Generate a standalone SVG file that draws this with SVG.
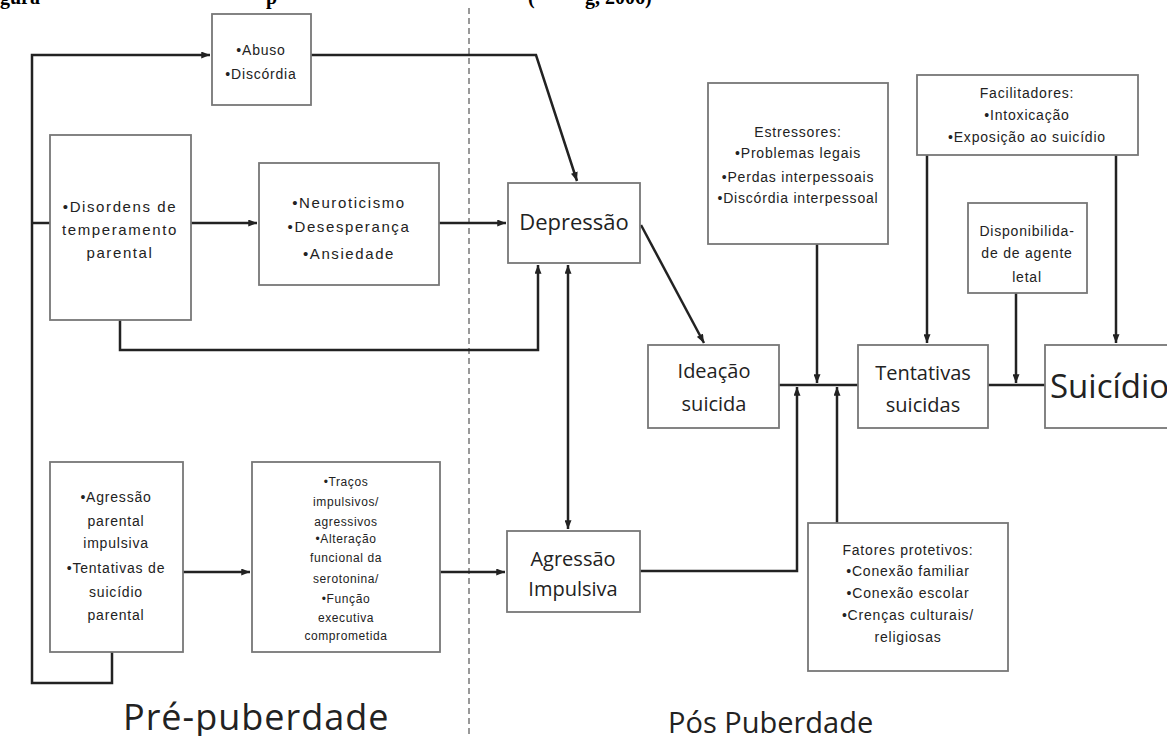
<svg xmlns="http://www.w3.org/2000/svg" width="1167" height="736" viewBox="0 0 1167 736">
<style>
.box{fill:#fff;stroke:#777;stroke-width:1.8}
.c{fill:none;stroke:#222;stroke-width:2.5}
.s{font-family:"Liberation Sans",Arial,sans-serif;font-size:14px;fill:#222;text-anchor:middle;letter-spacing:0.8px}
.m{font-family:"Liberation Sans",Arial,sans-serif;font-size:15px;fill:#222;text-anchor:middle;letter-spacing:1.6px}
.xs{font-family:"Liberation Sans",Arial,sans-serif;font-size:12px;fill:#222;text-anchor:middle;letter-spacing:0.6px}
.b{font-family:"Open Sans","Liberation Sans",sans-serif;font-size:20px;fill:#222;text-anchor:middle}
.cap{font-family:"Liberation Serif","Times New Roman",serif;font-weight:bold;font-size:20px;fill:#000}
.lbl{font-family:"Open Sans","Liberation Sans",sans-serif;fill:#222}
</style>
<defs>
<marker id="ah" viewBox="0 0 10 8" refX="10" refY="4" markerWidth="9" markerHeight="7" markerUnits="userSpaceOnUse" orient="auto-start-reverse">
<path d="M0,0 L10,4 L0,8 z" fill="#222"/>
</marker>
</defs>
<rect width="1167" height="736" fill="#fff"/>
<g id="caption">
<text class="cap" x="0" y="4">gura</text>
<text class="cap" x="266" y="4">p</text>
<text class="cap" x="528" y="4">(</text>
<text class="cap" x="585" y="4">g, 2006)</text>
</g>
<line x1="469" y1="8" x2="469" y2="736" stroke="#999" stroke-width="2" stroke-dasharray="6 4"/>
<g id="connectors">
<path class="c" d="M112,652 V683 H32 V55 H210" marker-end="url(#ah)"/>
<path class="c" d="M32,223 H50"/>
<path class="c" d="M311,55 H536 L577,181" marker-end="url(#ah)"/>
<path class="c" d="M191,223 H257" marker-end="url(#ah)"/>
<path class="c" d="M439,223 H506" marker-end="url(#ah)"/>
<path class="c" d="M120,320 V350 H538 V265" marker-end="url(#ah)"/>
<path class="c" d="M568,265 V529" marker-start="url(#ah)" marker-end="url(#ah)"/>
<path class="c" d="M641,225 L704,343" marker-end="url(#ah)"/>
<path class="c" d="M183,572 H250" marker-end="url(#ah)"/>
<path class="c" d="M440,572 H505" marker-end="url(#ah)"/>
<path class="c" d="M640,571 H797 V387" marker-end="url(#ah)"/>
<path class="c" d="M837,523 V387" marker-end="url(#ah)"/>
<path class="c" d="M817,244 V383" marker-end="url(#ah)"/>
<path class="c" d="M779,385 H858"/>
<path class="c" d="M927,155 V343" marker-end="url(#ah)"/>
<path class="c" d="M1116,155 V343" marker-end="url(#ah)"/>
<path class="c" d="M1016,293 V383" marker-end="url(#ah)"/>
<path class="c" d="M988,385 H1045"/>
</g>
<g id="abuso">
<rect class="box" x="212" y="14" width="99" height="91"/>
<text class="s" x="261" y="55">•Abuso</text>
<text class="s" x="261" y="79">•Discórdia</text>
</g>
<g id="disordens">
<rect class="box" x="50" y="135" width="141" height="185"/>
<text class="m" x="120" y="212">•Disordens de</text>
<text class="m" x="120" y="235">temperamento</text>
<text class="m" x="120" y="258">parental</text>
</g>
<g id="neuroticismo">
<rect class="box" x="259" y="163" width="180" height="122"/>
<text class="m" x="349" y="208">•Neuroticismo</text>
<text class="m" x="349" y="232">•Desesperança</text>
<text class="m" x="349" y="259">•Ansiedade</text>
</g>
<g id="agressao-parental">
<rect class="box" x="50" y="462" width="133" height="190"/>
<text class="s" x="116" y="502">•Agressão</text>
<text class="s" x="116" y="526">parental</text>
<text class="s" x="116" y="548">impulsiva</text>
<text class="s" x="116" y="573">•Tentativas de</text>
<text class="s" x="116" y="597">suicídio</text>
<text class="s" x="116" y="620">parental</text>
</g>
<g id="tracos">
<rect class="box" x="252" y="462" width="188" height="190"/>
<text class="xs" x="346" y="486">•Traços</text>
<text class="xs" x="346" y="506">impulsivos/</text>
<text class="xs" x="346" y="526">agressivos</text>
<text class="xs" x="346" y="543">•Alteração</text>
<text class="xs" x="346" y="562">funcional da</text>
<text class="xs" x="346" y="583">serotonina/</text>
<text class="xs" x="346" y="603">•Função</text>
<text class="xs" x="346" y="622">executiva</text>
<text class="xs" x="346" y="640">comprometida</text>
</g>
<g id="depressao">
<rect class="box" x="508" y="183" width="132" height="80"/>
<text class="b" x="574" y="230" style="font-size:22px">Depressão</text>
</g>
<g id="agressao-impulsiva">
<rect class="box" x="507" y="531" width="133" height="81"/>
<text class="b" x="573" y="566">Agressão</text>
<text class="b" x="573" y="596">Impulsiva</text>
</g>
<g id="estressores">
<rect class="box" x="708" y="83" width="180" height="161"/>
<text class="s" x="798" y="137">Estressores:</text>
<text class="s" x="798" y="158">•Problemas legais</text>
<text class="s" x="798" y="182">•Perdas interpessoais</text>
<text class="s" x="798" y="203">•Discórdia interpessoal</text>
</g>
<g id="facilitadores">
<rect class="box" x="917" y="75" width="221" height="80"/>
<text class="s" x="1027" y="98">Facilitadores:</text>
<text class="s" x="1027" y="120">•Intoxicação</text>
<text class="s" x="1027" y="142">•Exposição ao suicídio</text>
</g>
<g id="disponibilidade">
<rect class="box" x="968" y="203" width="119" height="90"/>
<text class="s" x="1027" y="236">Disponibilida-</text>
<text class="s" x="1027" y="258">de de agente</text>
<text class="s" x="1027" y="282">letal</text>
</g>
<g id="ideacao">
<rect class="box" x="648" y="345" width="131" height="83"/>
<text class="b" x="714" y="378">Ideação</text>
<text class="b" x="714" y="411">suicida</text>
</g>
<g id="tentativas">
<rect class="box" x="858" y="345" width="130" height="83"/>
<text class="b" x="923" y="380">Tentativas</text>
<text class="b" x="923" y="412">suicidas</text>
</g>
<g id="suicidio">
<rect class="box" x="1045" y="345" width="130" height="83"/>
<text class="lbl" x="1050" y="398" style="font-size:33px">Suicídio</text>
</g>
<g id="fatores">
<rect class="box" x="808" y="523" width="200" height="148"/>
<text class="s" x="908" y="555">Fatores protetivos:</text>
<text class="s" x="908" y="576">•Conexão familiar</text>
<text class="s" x="908" y="598">•Conexão escolar</text>
<text class="s" x="908" y="620">•Crenças culturais/</text>
<text class="s" x="908" y="642">religiosas</text>
</g>
<g id="labels">
<text class="lbl" x="123" y="730" style="font-size:36px;letter-spacing:1px">Pré-puberdade</text>
<text class="lbl" x="668" y="733" style="font-size:29px">Pós Puberdade</text>
</g>
</svg>
